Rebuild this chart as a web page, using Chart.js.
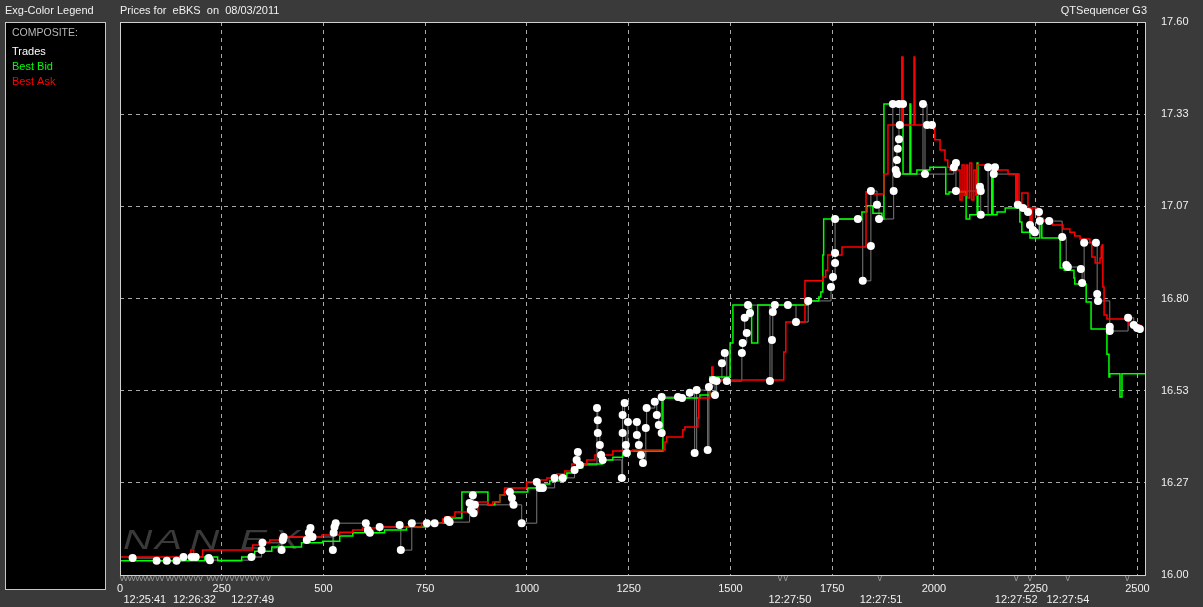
<!DOCTYPE html>
<html>
<head>
<meta charset="utf-8">
<script src="https://cdn.jsdelivr.net/npm/chart.js@4.4.1/dist/chart.umd.min.js"></script>
<style>
html,body{margin:0;padding:0;background:#3a3a3a;overflow:hidden;}
canvas{display:block;}
</style>
</head>
<body>
<canvas id="c" width="1203" height="607"></canvas>
<script>
// ---- axis ticks ----
const xTicks = [0, 250, 500, 750, 1000, 1250, 1500, 1750, 2000, 2250, 2500];
const xTickLabels = ['0', '250', '500', '750', '1000', '1250', '1500', '1750', '2000', '2250', '2500'];
const yTicks = [16.00, 16.2667, 16.5333, 16.80, 17.0667, 17.3333, 17.60];
const yTickLabels = ['16.00', '16.27', '16.53', '16.80', '17.07', '17.33', '17.60'];

// ---- time labels under the axis (sequence position -> time) ----
const timeLabels = ['12:25:41', '12:26:32', '12:27:49', '12:27:50', '12:27:51', '12:27:52', '12:27:54'];
const timeLabelSeq = [61, 183, 326, 1646, 1870, 2202, 2329];
const markerSeq = [5, 14, 24, 33, 43, 52, 62, 71, 80, 92, 103, 118, 127, 138, 150, 162, 174, 186, 198, 218, 228, 238, 250, 262, 275, 287, 300, 312, 325, 337, 350, 365, 1622, 1636, 1867, 2202, 2236, 2329, 2475];

// ---- Best Bid (green) ----
const bidSeq = [0, 208, 240, 299, 331, 373, 446, 498, 540, 572, 650, 704, 756, 810, 840, 904, 921, 933, 945, 1002, 1031, 1056, 1093, 1098, 1113, 1137, 1186, 1211, 1235, 1253, 1334, 1425, 1449, 1499, 1506, 1552, 1567, 1691, 1717, 1722, 1727, 1729, 1823, 1835, 1850, 1872, 1877, 1924, 1941, 1943, 1958, 1990, 2029, 2037, 2079, 2088, 2106, 2108, 2142, 2145, 2155, 2175, 2211, 2216, 2236, 2260, 2265, 2310, 2320, 2344, 2346, 2374, 2386, 2425, 2430, 2432, 2457, 2462, 2521];
const bidPrice = [16.041, 16.052, 16.041, 16.052, 16.069, 16.081, 16.093, 16.098, 16.113, 16.122, 16.130, 16.139, 16.150, 16.165, 16.240, 16.203, 16.211, 16.231, 16.240, 16.252, 16.263, 16.272, 16.281, 16.295, 16.310, 16.321, 16.333, 16.341, 16.350, 16.359, 16.512, 16.521, 16.573, 16.671, 16.781, 16.671, 16.781, 16.793, 16.804, 16.819, 16.926, 17.030, 17.050, 17.068, 17.047, 17.030, 17.363, 17.160, 17.363, 17.160, 17.172, 17.180, 17.102, 17.108, 17.030, 17.042, 17.192, 17.042, 17.186, 17.042, 17.050, 17.062, 17.021, 16.992, 16.975, 17.024, 16.975, 16.888, 16.882, 16.859, 16.842, 16.790, 16.712, 16.639, 16.573, 16.582, 16.515, 16.582, 16.582];

// ---- Best Ask (red) ----
const askSeq = [0, 174, 181, 203, 326, 348, 368, 392, 496, 540, 572, 596, 631, 741, 793, 798, 823, 879, 904, 916, 933, 945, 999, 1024, 1049, 1073, 1093, 1110, 1147, 1167, 1211, 1260, 1339, 1343, 1383, 1388, 1420, 1422, 1449, 1454, 1457, 1631, 1636, 1683, 1727, 1734, 1739, 1774, 1833, 1850, 1877, 1887, 1921, 1924, 1951, 1953, 2002, 2015, 2027, 2034, 2039, 2064, 2069, 2074, 2079, 2083, 2088, 2093, 2098, 2103, 2106, 2142, 2182, 2184, 2201, 2204, 2209, 2216, 2231, 2238, 2241, 2255, 2268, 2292, 2317, 2334, 2346, 2359, 2383, 2388, 2396, 2408, 2411, 2413, 2415, 2418, 2425, 2479, 2506];
const askPrice = [16.052, 16.072, 16.052, 16.072, 16.087, 16.095, 16.101, 16.110, 16.116, 16.124, 16.130, 16.136, 16.139, 16.150, 16.162, 16.168, 16.182, 16.211, 16.203, 16.211, 16.231, 16.252, 16.269, 16.275, 16.281, 16.292, 16.301, 16.321, 16.333, 16.347, 16.359, 16.362, 16.385, 16.399, 16.420, 16.428, 16.454, 16.512, 16.564, 16.602, 16.564, 16.645, 16.732, 16.851, 16.862, 16.882, 16.926, 16.949, 17.108, 17.102, 17.160, 17.302, 17.499, 17.302, 17.499, 17.302, 17.259, 17.230, 17.201, 17.180, 17.172, 17.085, 17.186, 17.099, 17.186, 17.091, 17.192, 17.085, 17.172, 17.099, 17.186, 17.172, 17.160, 17.160, 17.071, 17.160, 17.071, 17.105, 17.062, 16.998, 17.062, 17.033, 17.027, 17.013, 17.001, 16.992, 16.981, 16.972, 16.963, 16.920, 16.903, 16.917, 16.949, 16.955, 16.833, 16.752, 16.741, 16.723, 16.715];

// ---- Trades (white) ----
const tradeSeq = [31, 90, 115, 139, 156, 176, 186, 218, 221, 323, 348, 350, 397, 400, 402, 459, 464, 468, 473, 523, 525, 527, 530, 604, 609, 614, 638, 687, 690, 717, 754, 773, 805, 810, 859, 862, 867, 869, 872, 958, 963, 967, 987, 1024, 1031, 1039, 1068, 1088, 1117, 1122, 1125, 1130, 1172, 1174, 1174, 1179, 1182, 1186, 1233, 1235, 1240, 1235, 1243, 1245, 1248, 1270, 1270, 1275, 1280, 1285, 1292, 1294, 1314, 1319, 1324, 1331, 1331, 1371, 1381, 1400, 1412, 1417, 1444, 1447, 1457, 1462, 1466, 1479, 1486, 1491, 1528, 1530, 1540, 1535, 1548, 1543, 1597, 1602, 1604, 1609, 1641, 1661, 1691, 1747, 1752, 1757, 1757, 1757, 1813, 1825, 1845, 1845, 1860, 1865, 1901, 1899, 1914, 1924, 1916, 1914, 1911, 1909, 1906, 1909, 1973, 1983, 1995, 1978, 2049, 2054, 2054, 2113, 2115, 2115, 2133, 2150, 2147, 2206, 2219, 2231, 2236, 2243, 2248, 2258, 2260, 2283, 2315, 2325, 2329, 2361, 2364, 2369, 2398, 2401, 2403, 2432, 2432, 2477, 2491, 2499, 2506];
const tradePrice = [16.049, 16.041, 16.041, 16.041, 16.052, 16.052, 16.052, 16.049, 16.043, 16.052, 16.072, 16.093, 16.072, 16.101, 16.110, 16.101, 16.122, 16.136, 16.110, 16.072, 16.122, 16.139, 16.150, 16.150, 16.130, 16.122, 16.139, 16.145, 16.072, 16.150, 16.150, 16.150, 16.159, 16.153, 16.208, 16.188, 16.231, 16.179, 16.203, 16.240, 16.223, 16.203, 16.150, 16.269, 16.252, 16.252, 16.281, 16.281, 16.304, 16.333, 16.356, 16.318, 16.483, 16.448, 16.411, 16.376, 16.347, 16.333, 16.281, 16.463, 16.498, 16.411, 16.376, 16.353, 16.443, 16.443, 16.405, 16.376, 16.347, 16.324, 16.425, 16.483, 16.501, 16.463, 16.434, 16.411, 16.515, 16.515, 16.512, 16.527, 16.353, 16.535, 16.362, 16.544, 16.564, 16.521, 16.561, 16.613, 16.642, 16.561, 16.642, 16.671, 16.700, 16.744, 16.758, 16.781, 16.561, 16.680, 16.761, 16.781, 16.781, 16.732, 16.793, 16.833, 16.862, 16.903, 16.932, 17.030, 17.030, 16.851, 16.952, 17.111, 17.071, 17.030, 17.111, 17.363, 17.363, 17.363, 17.302, 17.261, 17.233, 17.201, 17.172, 17.160, 17.363, 17.302, 17.302, 17.160, 17.180, 17.192, 17.111, 17.123, 17.111, 17.042, 17.180, 17.180, 17.160, 17.071, 17.062, 17.050, 17.013, 16.998, 16.992, 17.050, 17.024, 17.024, 16.978, 16.897, 16.891, 16.885, 16.845, 16.961, 16.961, 16.813, 16.793, 16.718, 16.706, 16.744, 16.723, 16.715, 16.712];

const toXY = (xs, ys) => xs.map((x, i) => ({x: x, y: ys[i]}));

const FONT = '"Liberation Sans", Arial, sans-serif';

const decor = {
  id: 'decor',
  beforeDraw(chart) {
    const ctx = chart.ctx, a = chart.chartArea;
    ctx.save();
    ctx.fillStyle = '#3a3a3a';
    ctx.fillRect(0, 0, chart.width, chart.height);
    ctx.fillStyle = '#000';
    ctx.fillRect(a.left, a.top, a.right - a.left, a.bottom - a.top);
    // legend panel
    ctx.fillRect(5, 22, 101, 567);
    ctx.strokeStyle = '#c8c8c8';
    ctx.lineWidth = 1;
    ctx.strokeRect(5.5, 22.5, 100, 567);
    ctx.font = '11px ' + FONT;
    ctx.textBaseline = 'middle';
    ctx.textAlign = 'left';
    ctx.fillStyle = '#f0f0f0';
    ctx.fillText('Exg-Color Legend', 5, 11);
    ctx.fillText('Prices for  eBKS  on  08/03/2011', 120, 11);
    ctx.textAlign = 'right';
    ctx.fillText('QTSequencer G3', 1147, 11);
    ctx.textAlign = 'left';
    ctx.font = '10.5px ' + FONT;
    ctx.fillStyle = '#b8b8b8';
    ctx.fillText('COMPOSITE:', 12, 33);
    ctx.font = '11px ' + FONT;
    ctx.fillStyle = '#ffffff';
    ctx.fillText('Trades', 12, 52);
    ctx.fillStyle = '#00ff00';
    ctx.fillText('Best Bid', 12, 67);
    ctx.fillStyle = '#ff0000';
    ctx.fillText('Best Ask', 12, 82);
    ctx.restore();
  },
  beforeDatasetsDraw(chart) {
    const ctx = chart.ctx;
    ctx.save();
    ctx.fillStyle = '#3a3a3a';
    ctx.font = 'italic 28px ' + FONT;
    ctx.textBaseline = 'alphabetic';
    const letters = ['N', 'A', 'N', 'E', 'X'];
    const lx = [123, 155, 190, 240, 273];
    letters.forEach((l, i) => {
      ctx.save();
      ctx.translate(lx[i], 549);
      ctx.scale(1.45, 1);
      ctx.fillText(l, 0, 0);
      ctx.restore();
    });
    ctx.restore();
  },
  afterDraw(chart) {
    const ctx = chart.ctx, a = chart.chartArea, xs = chart.scales.x;
    ctx.save();
    ctx.strokeStyle = '#d0d0d0';
    ctx.lineWidth = 1;
    ctx.strokeRect(a.left + 0.5, a.top + 0.5, a.right - a.left - 1, a.bottom - a.top);
    ctx.font = '11px ' + FONT;
    ctx.textAlign = 'center';
    ctx.textBaseline = 'middle';
    ctx.fillStyle = '#f0f0f0';
    timeLabels.forEach((t, i) => ctx.fillText(t, xs.getPixelForValue(timeLabelSeq[i]), 600));
    ctx.fillStyle = '#9a9a9a';
    ctx.font = '9px ' + FONT;
    markerSeq.forEach(s => ctx.fillText('v', xs.getPixelForValue(s), 579));
    ctx.restore();
  }
};

new Chart(document.getElementById('c'), {
  type: 'line',
  data: {
    datasets: [
      {
        label: 'Trades',
        data: toXY(tradeSeq, tradePrice),
        showLine: false,
        pointRadius: 4,
        pointHoverRadius: 4,
        pointBackgroundColor: '#ffffff',
        pointBorderWidth: 0,
        pointStyle: 'circle'
      },
      {
        label: 'Best Ask',
        data: toXY(askSeq, askPrice),
        borderColor: '#ff0000',
        borderWidth: 1.5,
        stepped: true,
        pointRadius: 0,
        fill: false
      },
      {
        label: 'Best Bid',
        data: toXY(bidSeq, bidPrice),
        borderColor: '#00ff00',
        borderWidth: 1.5,
        stepped: true,
        pointRadius: 0,
        fill: false
      },
      {
        label: 'Trade line',
        data: toXY(tradeSeq, tradePrice),
        borderColor: '#7a7a7a',
        borderWidth: 1,
        stepped: true,
        pointRadius: 0,
        fill: false
      }
    ]
  },
  options: {
    responsive: false,
    devicePixelRatio: 1,
    animation: false,
    events: [],
    layout: {padding: {left: 120, top: 22, right: 0, bottom: 0}},
    plugins: {legend: {display: false}, tooltip: {enabled: false}, title: {display: false}},
    scales: {
      x: {
        type: 'linear',
        position: 'bottom',
        min: 0,
        max: 2521,
        afterBuildTicks: s => { s.ticks = xTicks.map(v => ({value: v})); },
        afterFit: s => { s.height = 32; },
        grid: {color: '#a8a8a8', lineWidth: 1, drawTicks: false},
        border: {display: false, dash: [4, 4]},
        ticks: {
          color: '#f0f0f0',
          font: {family: FONT, size: 11},
          padding: 7,
          maxRotation: 0,
          autoSkip: false,
          callback: (v, i) => xTickLabels[i]
        }
      },
      y: {
        type: 'linear',
        position: 'right',
        min: 16.0,
        max: 17.6,
        afterBuildTicks: s => { s.ticks = yTicks.map(v => ({value: v})); },
        afterFit: s => { s.width = 57; },
        grid: {color: '#a8a8a8', lineWidth: 1, drawTicks: false},
        border: {display: false, dash: [4, 4]},
        ticks: {
          color: '#f0f0f0',
          font: {family: FONT, size: 11},
          padding: 15,
          callback: (v, i) => yTickLabels[i]
        }
      }
    }
  },
  plugins: [decor]
});
</script>
</body>
</html>
